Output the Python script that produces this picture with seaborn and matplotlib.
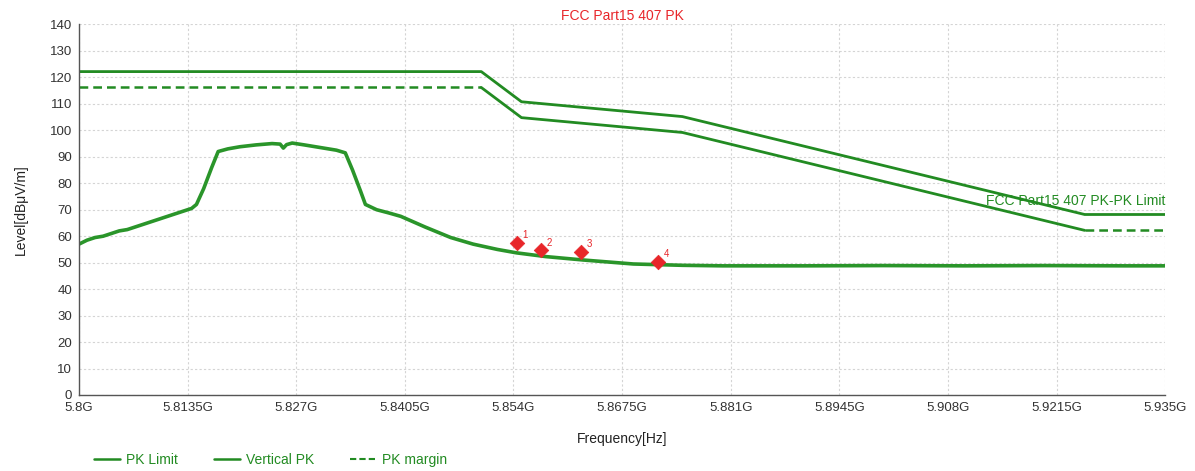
import matplotlib
matplotlib.use("Agg")
import matplotlib.pyplot as plt
import seaborn as sns
import pandas as pd
from matplotlib.lines import Line2D

# ---------------- data ----------------
title_text = "FCC Part15 407 PK"
limit_name = "FCC Part15 407 PK-PK Limit"

x_ticks = [5.8, 5.8135, 5.827, 5.8405, 5.854, 5.8675, 5.881, 5.8945, 5.908, 5.9215, 5.935]
x_tick_labels = ["5.8G", "5.8135G", "5.827G", "5.8405G", "5.854G", "5.8675G",
                 "5.881G", "5.8945G", "5.908G", "5.9215G", "5.935G"]
y_ticks = list(range(0, 141, 10))

limit_freq = [5.800, 5.850, 5.855, 5.875, 5.925, 5.935]
pk_limit = [122.2, 122.2, 110.8, 105.2, 68.2, 68.2]
pk_margin = [116.2, 116.2, 104.8, 99.2, 62.2, 62.2]

trace_freq = [5.8000, 5.8010, 5.8020, 5.8030, 5.8040, 5.8050, 5.8060, 5.8070, 5.8080,
              5.8090, 5.8100, 5.8110, 5.8120, 5.8130, 5.8140, 5.8146, 5.8155, 5.8165,
              5.8173, 5.8185, 5.8200, 5.8220, 5.8240, 5.8250, 5.8254, 5.8258, 5.8265,
              5.8280, 5.8300, 5.8320, 5.8331, 5.8340, 5.8350, 5.8356, 5.8370, 5.8385,
              5.8400, 5.8430, 5.8462, 5.8490, 5.8520, 5.8544, 5.8580, 5.8627, 5.8689,
              5.8750, 5.8800, 5.8900, 5.9000, 5.9100, 5.9200, 5.9300, 5.9350]
trace_level = [57.0, 58.5, 59.5, 60.0, 61.0, 62.0, 62.5, 63.5, 64.5,
               65.5, 66.5, 67.5, 68.5, 69.5, 70.5, 72.0, 78.0, 86.0,
               92.0, 93.0, 93.8, 94.5, 95.0, 94.8, 93.3, 94.6, 95.2,
               94.5, 93.5, 92.5, 91.5, 85.0, 77.0, 72.0, 70.0, 68.8,
               67.5, 63.5, 59.5, 57.0, 55.0, 53.7, 52.3, 51.0, 49.5,
               49.0, 48.8, 48.8, 48.9, 48.8, 48.9, 48.8, 48.8]

marker_ids = ["1", "2", "3", "4"]
marker_freq = [5.8544, 5.8574, 5.8624, 5.8720]
marker_level = [57.6, 54.6, 54.2, 50.4]

# ---------------- style ----------------
GREEN = "#228b22"
TRACE_GREEN = "#2a952a"
RED = "#e8262a"

sns.set_theme(style="white")
plt.rcParams["font.family"] = ["Liberation Sans Narrow", "Liberation Sans", "DejaVu Sans"]

fig = plt.figure(figsize=(11.95, 4.71), dpi=100)
ax = fig.add_axes([0.0661, 0.1614, 0.9089, 0.7866])

lim_df = pd.DataFrame({"f": limit_freq, "lim": pk_limit, "mar": pk_margin})
tr_df = pd.DataFrame({"f": trace_freq, "lvl": trace_level})
mk_df = pd.DataFrame({"f": marker_freq, "lvl": marker_level})

sns.lineplot(data=lim_df, x="f", y="lim", ax=ax, color=GREEN, lw=2.0,
             estimator=None, sort=False)
# margin: dashed on flat parts, solid on sloped parts (as in the source)
sns.lineplot(data=lim_df.iloc[0:2], x="f", y="mar", ax=ax, color=GREEN, lw=1.8,
             estimator=None, sort=False, linestyle=(0, (3.5, 2)))
sns.lineplot(data=lim_df.iloc[1:5], x="f", y="mar", ax=ax, color=GREEN, lw=2.0,
             estimator=None, sort=False)
sns.lineplot(data=lim_df.iloc[4:6], x="f", y="mar", ax=ax, color=GREEN, lw=1.8,
             estimator=None, sort=False, linestyle=(0, (3.5, 2)))
sns.lineplot(data=tr_df, x="f", y="lvl", ax=ax, color=TRACE_GREEN, lw=2.6,
             estimator=None, sort=False)
sns.scatterplot(data=mk_df, x="f", y="lvl", ax=ax, color=RED, marker="D", s=55,
                edgecolor=RED, linewidth=0.5, zorder=5)
for mid, fx, ly in zip(marker_ids, marker_freq, marker_level):
    ax.annotate(mid, (fx, ly), xytext=(4, 3), textcoords="offset points",
                color=RED, fontsize=7)

ax.text(5.935, 73.3, limit_name, color=GREEN, fontsize=10, ha="right", va="center")

ax.set_xlim(5.8, 5.935)
ax.set_ylim(0, 140)
ax.set_xticks(x_ticks)
ax.set_xticklabels(x_tick_labels)
ax.set_yticks(y_ticks)
ax.tick_params(axis="both", labelsize=9.5, colors="#333333", length=3, width=0.8,
               direction="out", pad=2)
ax.grid(True, color="#d4d4d4", linestyle=(0, (2, 2)), lw=0.8)
for s in ["top", "right"]:
    ax.spines[s].set_visible(False)
for s in ["left", "bottom"]:
    ax.spines[s].set_color("#555555")
    ax.spines[s].set_linewidth(1.0)

ax.set_xlabel("Frequency[Hz]", fontsize=10, color="#222222", labelpad=13)
ax.set_ylabel("Level[dBμV/m]", fontsize=10, color="#222222", labelpad=16)
ax.set_title(title_text, color=RED, fontsize=10, pad=3)

handles = [Line2D([], [], color=GREEN, lw=1.8),
           Line2D([], [], color=GREEN, lw=1.8),
           Line2D([], [], color=GREEN, lw=1.5, linestyle=(0, (3, 1.5)))]
leg = fig.legend(handles, ["PK Limit", "Vertical PK", "PK margin"], loc="lower left",
                 bbox_to_anchor=(0.068, -0.018), ncol=3, frameon=False, fontsize=10,
                 handlelength=1.9, columnspacing=2.6, handletextpad=0.4)
for t in leg.get_texts():
    t.set_color(GREEN)

fig.savefig("out.png", dpi=100, facecolor="white")
